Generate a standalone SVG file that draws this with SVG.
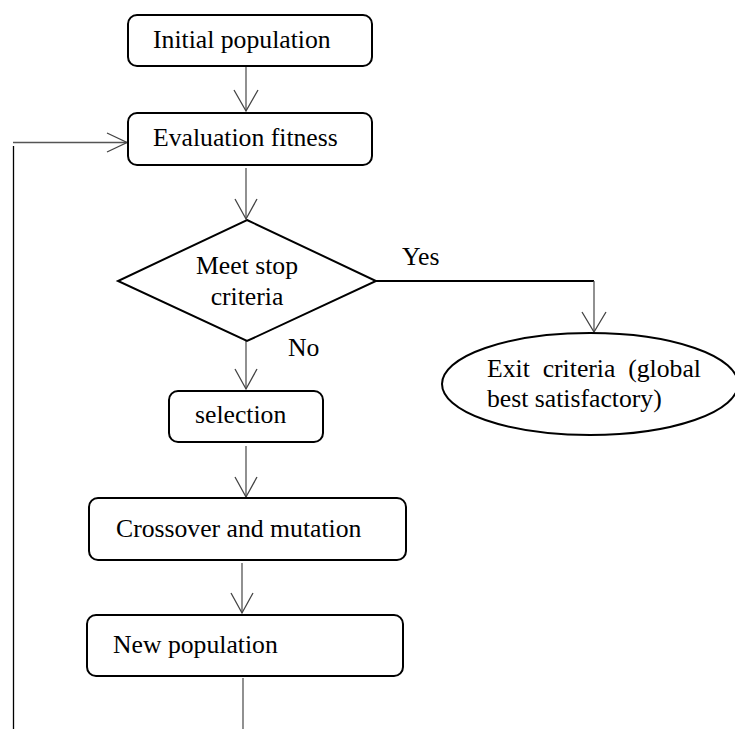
<svg xmlns="http://www.w3.org/2000/svg" width="735" height="729" viewBox="0 0 735 729">
  <style>
    .box { fill: #ffffff; stroke: #000000; stroke-width: 2; }
    .lbl { font-family: "Liberation Serif", "Times New Roman", serif; font-size: 25.7px; fill: #000000; }
    .edge { fill: none; stroke: #555555; stroke-width: 1.3; }
    .edge-dark { fill: none; stroke: #000000; stroke-width: 2; }
    .head { fill: none; stroke: #444444; stroke-width: 1.3; }
  </style>

  <!-- connectors -->
  <g id="connectors">
    <!-- Initial population -> Evaluation fitness -->
    <line class="edge" x1="246" y1="67" x2="246" y2="111"/>
    <polyline class="head" points="234,90 246,111 258,90"/>
    <!-- Evaluation fitness -> decision -->
    <line class="edge" x1="246" y1="168" x2="246" y2="219"/>
    <polyline class="head" points="235,199 246,219 257,199"/>
    <!-- decision (Yes) -> exit -->
    <line class="edge-dark" x1="376" y1="281" x2="594" y2="281"/>
    <line class="edge" x1="594" y1="281" x2="594" y2="332"/>
    <polyline class="head" points="582,312 594,332 606,312"/>
    <!-- decision (No) -> selection -->
    <line class="edge" x1="246" y1="341" x2="246" y2="389"/>
    <polyline class="head" points="235,369 246,389 257,369"/>
    <!-- selection -> crossover -->
    <line class="edge" x1="246" y1="446" x2="246" y2="497"/>
    <polyline class="head" points="235,477 246,497 257,477"/>
    <!-- crossover -> new population -->
    <line class="edge" x1="242" y1="563" x2="242" y2="613"/>
    <polyline class="head" points="231,593 242,613 253,593"/>
    <!-- new population -> loop back -->
    <line class="edge" x1="243" y1="678" x2="243" y2="729"/>
    <line class="edge-dark" x1="13.5" y1="146" x2="13.5" y2="729" style="stroke-width:1.3"/>
    <line class="edge" x1="13" y1="142.5" x2="127" y2="142.5"/>
    <polyline class="head" points="107,133 127,142.5 107,152"/>
  </g>

  <g id="initial-population">
    <rect class="box" x="128" y="15" width="244" height="51" rx="9"/>
    <text class="lbl" x="153" y="48">Initial population</text>
  </g>

  <g id="evaluation-fitness">
    <rect class="box" x="128" y="113" width="244" height="52" rx="9"/>
    <text class="lbl" x="153" y="146">Evaluation fitness</text>
  </g>

  <g id="meet-stop-criteria">
    <polygon class="box" points="247,220 376,281 247,341 118,281"/>
    <text class="lbl" x="247" y="274" text-anchor="middle">Meet stop</text>
    <text class="lbl" x="247" y="305" text-anchor="middle">criteria</text>
    <text class="lbl" x="288" y="356">No</text>
    <text class="lbl" x="402" y="265">Yes</text>
  </g>

  <g id="exit-criteria">
    <ellipse class="box" cx="590" cy="384" rx="148" ry="51"/>
    <text class="lbl" x="487" y="377" xml:space="preserve">Exit  criteria  (global</text>
    <text class="lbl" x="487" y="407">best satisfactory)</text>
  </g>

  <g id="selection">
    <rect class="box" x="169" y="391" width="154" height="51" rx="9"/>
    <text class="lbl" x="195" y="423">selection</text>
  </g>

  <g id="crossover-mutation">
    <rect class="box" x="89" y="498" width="317" height="62" rx="9"/>
    <text class="lbl" x="116" y="537">Crossover and mutation</text>
  </g>

  <g id="new-population">
    <rect class="box" x="87" y="615" width="316" height="61" rx="9"/>
    <text class="lbl" x="113" y="653">New population</text>
  </g>
</svg>
